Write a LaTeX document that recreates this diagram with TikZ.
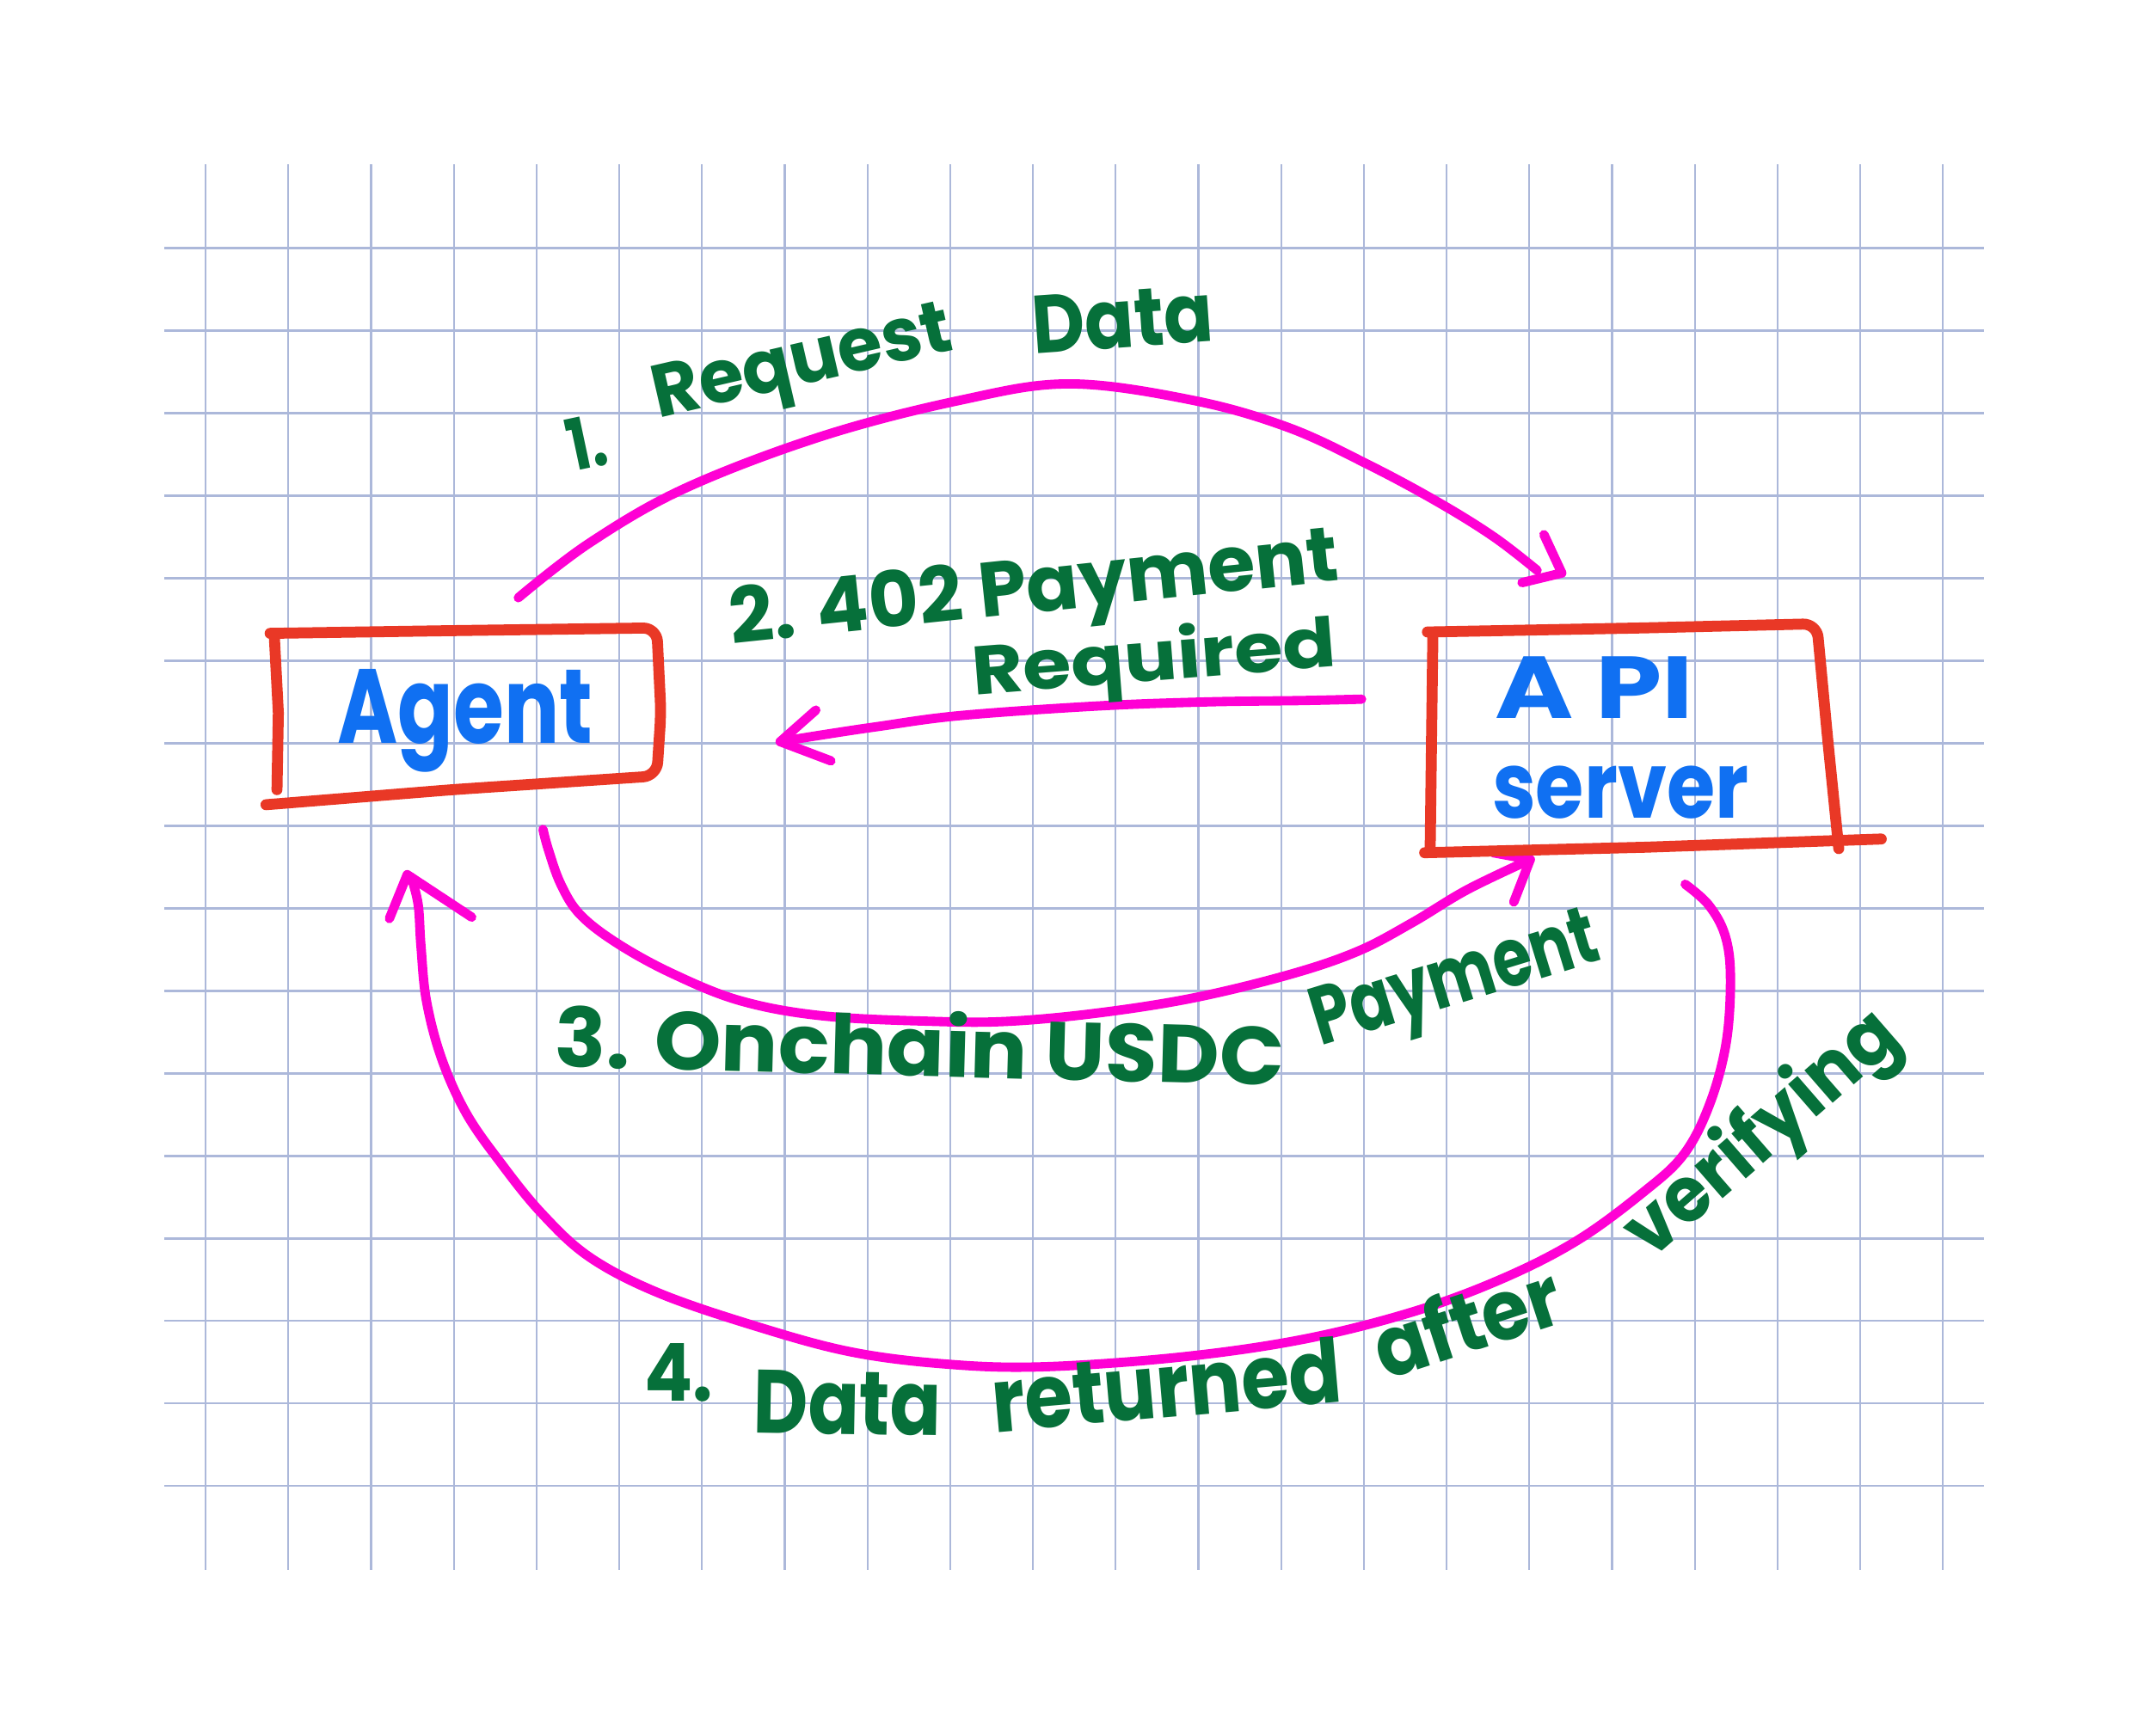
\documentclass[tikz,border=0pt]{standalone}
\usepackage{fontspec}
\setmainfont{Poppins}
\usetikzlibrary{calc}
\definecolor{gridc}{RGB}{172,184,218}
\definecolor{boxred}{RGB}{233,56,38}
\definecolor{flowpink}{RGB}{255,0,212}
\definecolor{labgreen}{RGB}{6,112,58}
\definecolor{namblue}{RGB}{16,112,242}
\newcommand{\hw}[3]{\resizebox{#1pt}{#2pt}{#3}}
\tikzset{
  gridline/.style={draw=gridc, line width=1.4pt},
  boxpen/.style={draw=boxred, line width=8pt, line cap=round, line join=round},
  flowpen/.style={draw=flowpink, line width=6.8pt, line cap=round, line join=round},
  lbl/.style={text=labgreen, inner sep=0pt, anchor=base west, font=\bfseries},
  namelbl/.style={text=namblue, inner sep=0pt, anchor=base west, font=\bfseries},
}
\begin{document}
\begin{tikzpicture}[x=1pt,y=-1pt]
\useasboundingbox (0,0) rectangle (1568,1266);
\fill[white] (0,0) rectangle (1568,1266);
% grid paper
\foreach \i in {0,...,21} \draw[gridline] ({150+60.333*\i},120) -- ({150+60.333*\i},1145);
\foreach \j in {0,...,15} \draw[gridline] (120,{181+60.2*\j}) -- (1447,{181+60.2*\j});

% box labels
\node[namelbl] (agent) at (246,542) {\hw{186}{54}{Agent}};
\node[namelbl] (api) at (1090,524) {\hw{145}{45}{A PI}};
\node[namelbl] (server) at (1088,597) {\hw{187}{38}{server}};

% connector end points
\coordinate (r1s) at (378,436);
\coordinate (r1e) at (1121,416);
\coordinate (r2s) at (993,510);
\coordinate (r2e) at (569,541);
\coordinate (r3s) at (396,605);
\coordinate (r3e) at (1116,627);
\coordinate (r4s) at (1229,645);
\coordinate (r4e) at (300,640);

% 1. request data
\draw[flowpen] plot[smooth, tension=0.6] coordinates {(r1s) (430,396) (500,356) (600,318) (700,292) (780,280) (870,292) (940,312) (1000,340) (1050,367) (1090,392) (r1e)};
\draw[flowpen] ($(r1e)+(-11,9)$) -- ($(r1e)+(18,2)$) -- ($(r1e)+(5,-26)$);
% 2. 402 payment required
\draw[flowpen] plot[smooth, tension=0.6] coordinates {(r2s) (950,511) (880,512) (800,515) (700,522) (640,530) (600,536) (r2e)};
\draw[flowpen] ($(r2e)+(26,-23)$) -- (r2e) -- ($(r2e)+(37,14)$);
% 3. onchain payment
\draw[flowpen] plot[smooth, tension=0.6] coordinates {(r3s) (400,620) (409,645) (423,667) (450,688) (490,710) (540,730) (600,741) (680,745) (735,745) (800,739) (870,728) (940,711) (990,694) (1030,673) (1070,649) (r3e)};
\draw[flowpen] ($(r3e)+(-12,31)$) -- (r3e) -- ($(r3e)+(-27,-5)$);
% 4. data returned
\draw[flowpen] plot[smooth, tension=0.6] coordinates {(r4s) (1246,660) (1258,682) (1262,712) (1259,760) (1247,805) (1228,842) (1198,870) (1150,905) (1095,933) (1030,957) (950,977) (860,990) (760,997) (690,995) (620,986) (550,967) (480,943) (430,917) (395,885) (365,848) (340,812) (322,772) (311,730) (307,690) (305,660) (r4e)};
\draw[flowpen] ($(r4e)+(-16,30)$) -- ($(r4e)+(-3,-2)$) -- ($(r4e)+(44,29)$);

% boxes (hand drawn)
\draw[boxpen, rounded corners=10pt] (197,462) -- (330,460) -- (479,458) -- (482,520) -- (479,566) -- (330,576) -- (194,587);
\draw[boxpen] (200,463) -- (203,520) -- (202,576);
\draw[boxpen, rounded corners=10pt] (1041,461) -- (1200,458) -- (1325,455) -- (1333,540) -- (1341,619);
\draw[boxpen] (1045,462) -- (1044,540) -- (1043,621);
\draw[boxpen] (1039,622) -- (1200,618) -- (1372,612);

% labels
\node[lbl, rotate=12] (l1a) at (418,344) {\hw{28}{38}{1.}};
\node[lbl, rotate=13] (l1b) at (480,305) {\hw{222}{38}{Request}};
\node[lbl, rotate=4] (l1c) at (754,258) {\hw{132}{42}{Data}};
\node[lbl, rotate=6] (l2a) at (534,470) {\hw{446}{42}{2. 402 Payment}};
\node[lbl, rotate=4.5] (l2b) at (710,507) {\hw{266}{40}{Required}};
\node[lbl, rotate=-1.5] (l3a) at (404,778) {\hw{532}{48}{3. Onchain USDC}};
\node[lbl, rotate=17] (l3b) at (963,763) {\hw{215}{42}{Payment}};
\node[lbl] (l4a) at (470,1022) {\hw{50}{42}{4.}};
\node[lbl, rotate=-1] (l4b) at (549,1045) {\hw{137}{46}{Data}};
\node[lbl, rotate=5] (l4c) at (725,1045) {\hw{256}{48}{returned}};
\node[lbl, rotate=18] (l4d) at (1010,1007) {\hw{140}{48}{after}};
\node[lbl, rotate=41] (l4e) at (1204,920) {\hw{244}{45}{verifying}};
\end{tikzpicture}
\end{document}
